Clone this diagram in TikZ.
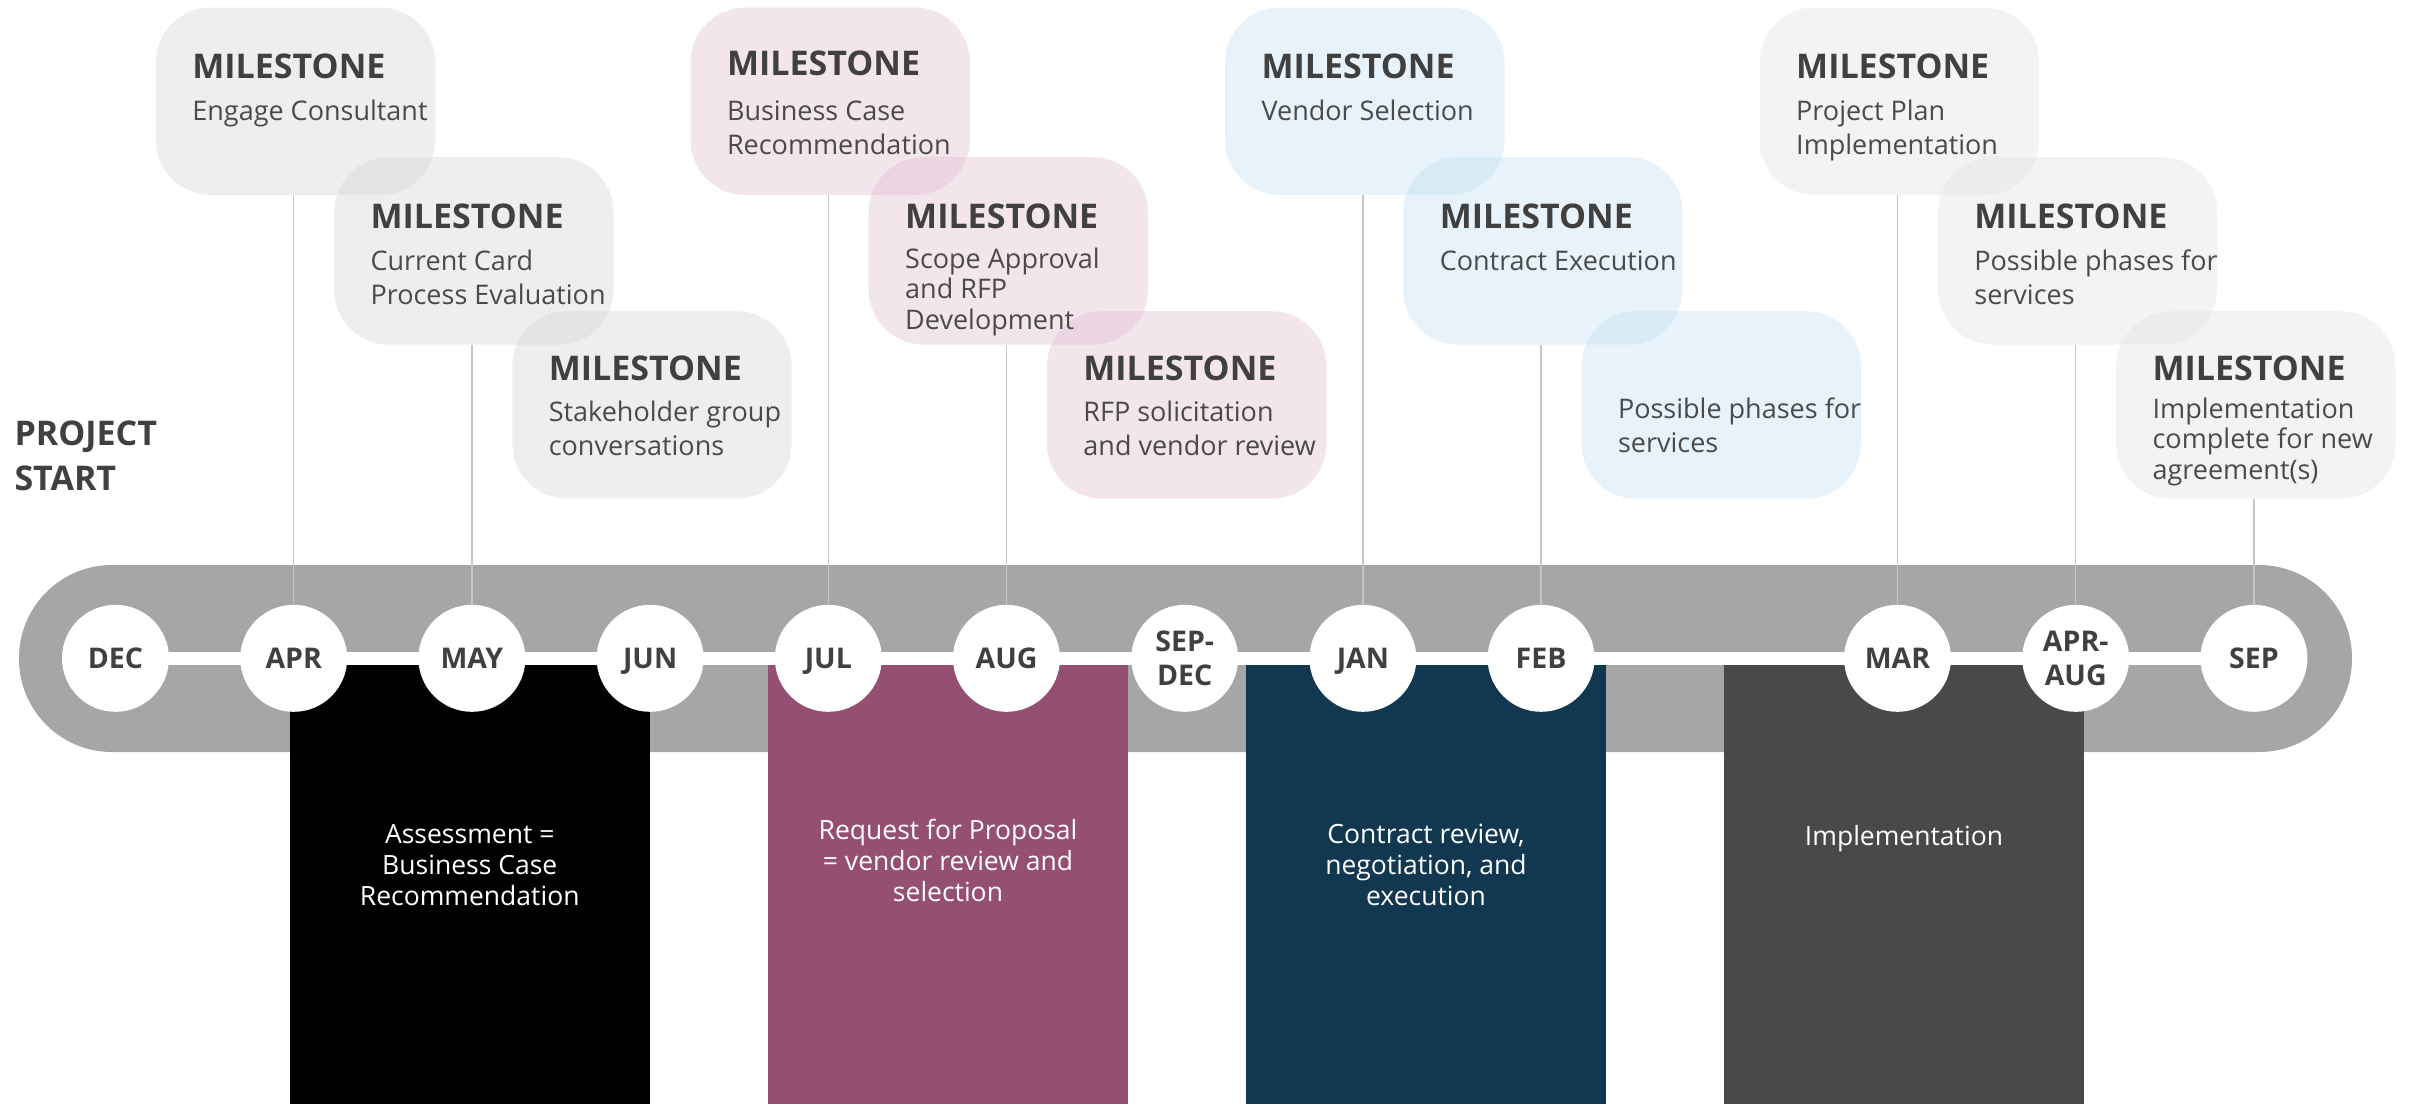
\documentclass[tikz,border=0pt]{standalone}
\usepackage{fontspec}
\setmainfont{Open Sans}
\usetikzlibrary{calc}
\definecolor{txt}{HTML}{404040}
\definecolor{txtb}{HTML}{4A4A4A}
\definecolor{bandc}{HTML}{A6A6A6}
\definecolor{linec}{HTML}{BFC7D2}
\definecolor{phA}{HTML}{000000}
\definecolor{phB}{HTML}{954F72}
\definecolor{phC}{HTML}{123751}
\definecolor{phD}{HTML}{494949}
\definecolor{mgA}{HTML}{D4D4D4}
\definecolor{mpk}{HTML}{DEBECF}
\definecolor{mbl}{HTML}{C3DEF2}
\definecolor{mgD}{HTML}{E1E1E1}
\newcommand\lns[1]{\parbox[t]{400pt}{\raggedright #1}}
\newcommand\clns[1]{\parbox[t]{360pt}{\centering #1}}
\begin{document}
\begin{tikzpicture}[x=1pt,y=-1pt,
  mbox/.style={rectangle, rounded corners=55pt, minimum width=279.4pt, minimum height=187.5pt, inner sep=0pt, anchor=north west, fill opacity=0.4, draw=none},
  mtitle/.style={anchor=base west, inner sep=0pt, text=txt, font=\fontsize{34}{40}\selectfont\bfseries},
  mbody/.style={anchor=base west, inner sep=0pt, text=txtb, font=\fontsize{27}{34}\selectfont},
  mbodyt/.style={anchor=base west, inner sep=0pt, text=txtb, font=\fontsize{27}{30.6}\selectfont},
  month/.style={circle, fill=white, minimum size=107pt, inner sep=0pt, align=center, text=txt, font=\fontsize{28.5}{33.5}\selectfont\bfseries},
  oneline/.style={text height=20.4pt, text depth=0pt},
  phase/.style={rectangle, anchor=north west, minimum width=360pt, minimum height=439.5pt, inner sep=0pt, draw=none},
  phtext/.style={anchor=base, inner sep=0pt, text=white, font=\fontsize{26.5}{31}\selectfont},
  conn/.style={draw=linec, line width=1.3pt}
]
\useasboundingbox (0,0) rectangle (2409,1104);

% milestone boxes
\node[mbox, fill=mgA] (m1) at (155.7,7.3) {};
\node[mbox, fill=mgA] (m2) at (333.9,157) {};
\node[mbox, fill=mgA] (m3) at (512.1,311) {};
\node[mbox, fill=mpk] (m4) at (690.3,7.3) {};
\node[mbox, fill=mpk] (m5) at (868.5,157) {};
\node[mbox, fill=mpk] (m6) at (1046.7,311) {};
\node[mbox, fill=mbl] (m7) at (1224.9,7.3) {};
\node[mbox, fill=mbl] (m8) at (1403.1,157) {};
\node[mbox, fill=mbl] (m9) at (1581.3,311) {};
\node[mbox, fill=mgD] (m10) at (1759.5,7.3) {};
\node[mbox, fill=mgD] (m11) at (1937.7,157) {};
\node[mbox, fill=mgD] (m12) at (2115.9,311) {};

% band
\node[fill=bandc, rounded corners=93pt, minimum width=2333pt, minimum height=187pt, inner sep=0pt] (band) at (1185.5,658.5) {};

% phases
\node[phase, fill=phA] (p1) at (290,664.5) {};
\node[phase, fill=phB] (p2) at (768,664.5) {};
\node[phase, fill=phC] (p3) at (1246,664.5) {};
\node[phase, fill=phD] (p4) at (1724,664.5) {};

% month centres and white line
\coordinate (cdec) at (115.5,658.3);
\coordinate (csep) at (2253.9,658.3);
\draw[white, line width=13pt] (cdec) -- (csep);

\node[month, oneline] (dec) at (cdec) {DEC};
\node[month, oneline] (apr) at (293.7,658.3) {APR};
\node[month, oneline] (may) at (471.9,658.3) {MAY};
\node[month, oneline] (jun) at (650.1,658.3) {JUN};
\node[month, oneline] (jul) at (828.3,658.3) {JUL};
\node[month, oneline] (aug) at (1006.5,658.3) {AUG};
\node[month] (sepdec) at (1184.7,658.3) {SEP-\\DEC};
\node[month, oneline] (jan) at (1362.9,658.3) {JAN};
\node[month, oneline] (feb) at (1541.1,658.3) {FEB};
\node[month, oneline] (mar) at (1897.5,658.3) {MAR};
\node[month] (apraug) at (2075.7,658.3) {APR-\\AUG};
\node[month, oneline] (sep) at (csep) {SEP};

% connectors
\draw[conn] (m1.south -| apr.north) -- (apr.north);
\draw[conn] (m2.south -| may.north) -- (may.north);
\draw[conn] (m4.south -| jul.north) -- (jul.north);
\draw[conn] (m5.south -| aug.north) -- (aug.north);
\draw[conn] (m7.south -| jan.north) -- (jan.north);
\draw[conn] (m8.south -| feb.north) -- (feb.north);
\draw[conn] (m10.south -| mar.north) -- (mar.north);
\draw[conn] (m11.south -| apraug.north) -- (apraug.north);
\draw[conn] (m12.south -| sep.north) -- (sep.north);

% milestone texts
\node[mtitle] (m1h) at ($(m1.north west)+(36.5,71.5)$) {MILESTONE};
\node[mbody] (m1b) at ($(m1.north west)+(36.5,113)$) {\lns{Engage Consultant}};
\node[mtitle] (m2h) at ($(m2.north west)+(36.5,71.5)$) {MILESTONE};
\node[mbody] (m2b) at ($(m2.north west)+(36.5,113.5)$) {\lns{Current Card\\Process Evaluation}};
\node[mtitle] (m3h) at ($(m3.north west)+(36.5,69)$) {MILESTONE};
\node[mbody] (m3b) at ($(m3.north west)+(36.5,110.7)$) {\lns{Stakeholder group\\conversations}};

\node[mtitle] (m4h) at ($(m4.north west)+(36.5,68)$) {MILESTONE};
\node[mbody] (m4b) at ($(m4.north west)+(36.5,112.7)$) {\lns{Business Case\\Recommendation}};
\node[mtitle] (m5h) at ($(m5.north west)+(36.5,71.3)$) {MILESTONE};
\node[mbodyt] (m5b) at ($(m5.north west)+(36.5,111.3)$) {\lns{Scope Approval\\and RFP\\Development}};
\node[mtitle] (m6h) at ($(m6.north west)+(36.5,69)$) {MILESTONE};
\node[mbody] (m6b) at ($(m6.north west)+(36.5,110.7)$) {\lns{RFP solicitation\\and vendor review}};

\node[mtitle] (m7h) at ($(m7.north west)+(36.5,71.5)$) {MILESTONE};
\node[mbody] (m7b) at ($(m7.north west)+(36.5,112.7)$) {\lns{Vendor Selection}};
\node[mtitle] (m8h) at ($(m8.north west)+(36.5,71.3)$) {MILESTONE};
\node[mbody] (m8b) at ($(m8.north west)+(36.5,113)$) {\lns{Contract Execution}};
\node[mbody] (m9b) at ($(m9.north west)+(36.5,107.3)$) {\lns{Possible phases for\\services}};

\node[mtitle] (m10h) at ($(m10.north west)+(36.5,71.5)$) {MILESTONE};
\node[mbody] (m10b) at ($(m10.north west)+(36.5,112.7)$) {\lns{Project Plan\\Implementation}};
\node[mtitle] (m11h) at ($(m11.north west)+(36.5,71.3)$) {MILESTONE};
\node[mbody] (m11b) at ($(m11.north west)+(36.5,113)$) {\lns{Possible phases for\\services}};
\node[mtitle] (m12h) at ($(m12.north west)+(36.5,69)$) {MILESTONE};
\node[mbodyt] (m12b) at ($(m12.north west)+(36.5,107.3)$) {\lns{Implementation\\complete for new\\agreement(s)}};

% project start
\node[anchor=base west, inner sep=0pt, text=txt, font=\fontsize{34}{45}\selectfont\bfseries] (start) at (14.3,445) {\lns{PROJECT\\START}};

% phase texts
\node[phtext] (p1t) at (469.75,843) {\clns{Assessment =\\Business Case\\Recommendation}};
\node[phtext] (p2t) at (948,839) {\clns{Request for Proposal\\= vendor review and\\selection}};
\node[phtext] (p3t) at (1426,843) {\clns{Contract review,\\negotiation, and\\execution}};
\node[phtext] (p4t) at (1904,845) {\clns{Implementation}};
\end{tikzpicture}
\end{document}
